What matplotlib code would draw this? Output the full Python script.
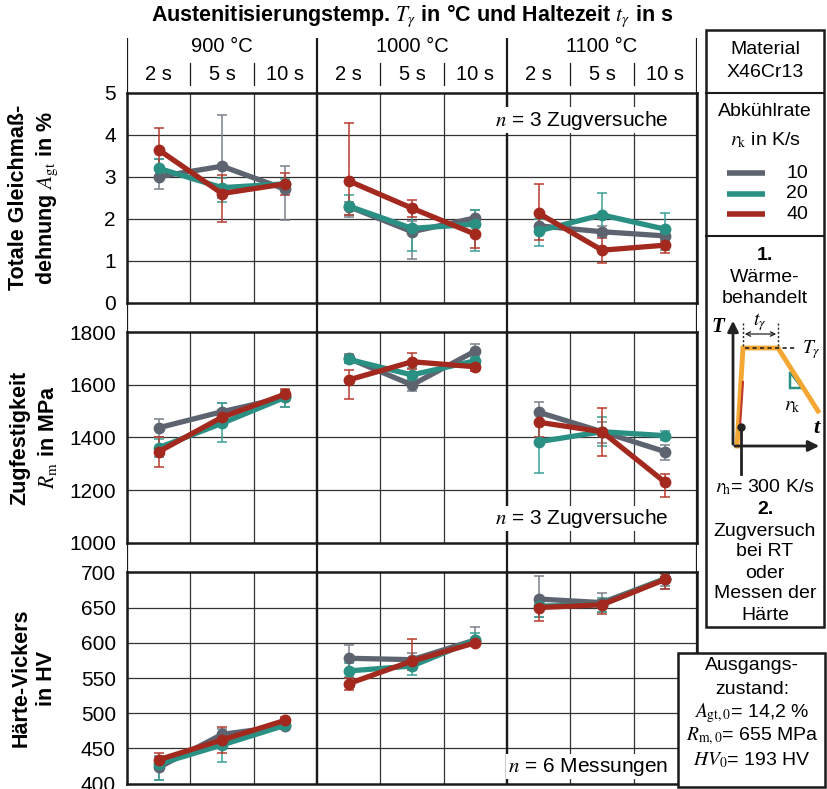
import matplotlib
matplotlib.use('Agg')
import matplotlib.pyplot as plt
from matplotlib.patches import Rectangle, Polygon

plt.rcParams['font.family'] = ['Liberation Sans', 'DejaVu Sans']
plt.rcParams['mathtext.fontset'] = 'stix'

# Achsenbeschriftungen
temps = ['900 °C', '1000 °C', '1100 °C']
zeiten = ['2 s', '5 s', '10 s']
raten = ['10', '20', '40']
farben = ['#5d6470', '#2a9083', '#a3291f']
fehlerfarben = ['#7a818c', '#3aa095', '#b83a2e']

# Totale Gleichmaßdehnung A_gt in %
agt_10 = [3.00, 3.25, 2.70, 2.29, 1.69, 2.02, 1.83, 1.69, 1.59]
agt_10_hi = [3.41, 4.47, 3.25, 2.40, 1.95, 2.20, 2.00, 1.82, 1.68]
agt_10_lo = [2.71, 2.50, 1.97, 2.05, 1.03, 1.85, 1.65, 1.58, 1.52]
agt_20 = [3.20, 2.74, 2.83, 2.30, 1.77, 1.87, 1.71, 2.09, 1.75]
agt_20_hi = [3.41, 2.98, 2.95, 2.56, 2.33, 2.20, 2.00, 2.62, 2.13]
agt_20_lo = [2.98, 2.40, 2.70, 2.09, 1.24, 1.24, 1.36, 1.70, 1.25]
agt_40 = [3.64, 2.60, 2.83, 2.90, 2.25, 1.63, 2.13, 1.25, 1.37]
agt_40_hi = [4.15, 3.04, 3.10, 4.27, 2.44, 1.97, 2.82, 1.53, 1.48]
agt_40_lo = [3.16, 1.93, 2.56, 2.09, 2.05, 1.31, 1.49, 0.95, 1.19]

# Zugfestigkeit R_m in MPa
rm_10 = [1437, 1498, 1553, 1701, 1600, 1729, 1496, 1422, 1346]
rm_10_hi = [1470, 1530, 1581, 1718, 1621, 1756, 1536, 1460, 1371]
rm_10_lo = [1400, 1470, 1515, 1682, 1578, 1701, 1460, 1380, 1314]
rm_20 = [1361, 1454, 1553, 1697, 1638, 1692, 1384, 1422, 1407]
rm_20_hi = [1395, 1530, 1575, 1712, 1663, 1707, 1454, 1479, 1425]
rm_20_lo = [1327, 1384, 1517, 1682, 1620, 1675, 1266, 1368, 1390]
rm_40 = [1346, 1477, 1565, 1619, 1688, 1669, 1458, 1422, 1229]
rm_40_hi = [1403, 1505, 1584, 1657, 1720, 1684, 1492, 1511, 1261]
rm_40_lo = [1289, 1449, 1543, 1545, 1659, 1654, 1400, 1330, 1175]

# Härte HV
hv_10 = [423, 470, 482, 578, 576, 604, 662, 657, 691]
hv_10_hi = [440, 478, 487, 597, 586, 623, 695, 670, 700]
hv_10_lo = [405, 460, 477, 561, 566, 597, 637, 644, 680]
hv_20 = [428, 455, 483, 560, 567, 604, 652, 654, 691]
hv_20_hi = [438, 467, 488, 571, 578, 614, 663, 663, 703]
hv_20_lo = [405, 431, 478, 552, 554, 595, 637, 644, 676]
hv_40 = [434, 462, 490, 542, 574, 600, 650, 654, 690]
hv_40_hi = [444, 481, 495, 550, 605, 604, 658, 661, 698]
hv_40_lo = [422, 443, 485, 533, 561, 596, 631, 641, 676]

W, H = 827, 789
fig = plt.figure(figsize=(W / 100, H / 100), dpi=100)


def pix(x0, y0, x1, y1):
    return [x0 / W, 1 - y1 / H, (x1 - x0) / W, (y1 - y0) / H]


X0, X1 = 127, 697

# Hintergrund-Tabelle (Kopfzeile und durchgehende Trennlinien)
bg = fig.add_axes(pix(X0, 0, X1, H))
bg.set_xlim(-0.5, 8.5)
bg.set_ylim(H, 0)
bg.axis('off')
for xv in [-0.5, 2.5, 5.5, 8.5]:
    bg.plot([xv, xv], [38, 785], color='#1a1a1a', lw=1.6, solid_capstyle='butt')
for g in range(3):
    bg.text(3 * g + 1, 46, temps[g], ha='center', va='center', fontsize=14.5)
    for k in range(3):
        bg.text(3 * g + k, 74, zeiten[k], ha='center', va='center', fontsize=14.5)
    for k in [0.5, 1.5]:
        bg.plot([3 * g + k] * 2, [63, 85], color='#1a1a1a', lw=0.9)
bg.text(4, 16, r'Austenitisierungstemp. $T_\gamma$ in °C und Haltezeit $t_\gamma$ in s',
        ha='center', va='center', fontsize=15.5, fontweight='bold')

panels = [
    (92.7, 302.7, (0, 5), [0, 1, 2, 3, 4, 5],
     [(agt_10, agt_10_lo, agt_10_hi), (agt_20, agt_20_lo, agt_20_hi), (agt_40, agt_40_lo, agt_40_hi)],
     'Totale Gleichmaß-\ndehnung $A_{\\mathrm{gt}}$ in %', r'$n$ = 3 Zugversuche', 0.87),
    (332.3, 542.7, (1000, 1800), [1000, 1200, 1400, 1600, 1800],
     [(rm_10, rm_10_lo, rm_10_hi), (rm_20, rm_20_lo, rm_20_hi), (rm_40, rm_40_lo, rm_40_hi)],
     'Zugfestigkeit\n$R_{\\mathrm{m}}$ in MPa', r'$n$ = 3 Zugversuche', 0.115),
    (572.3, 783.7, (400, 700), [400, 450, 500, 550, 600, 650, 700],
     [(hv_10, hv_10_lo, hv_10_hi), (hv_20, hv_20_lo, hv_20_hi), (hv_40, hv_40_lo, hv_40_hi)],
     'Härte-Vickers\nin HV', r'$n$ = 6 Messungen', 0.08),
]

xs = list(range(9))
for y0, y1, lim, ticks, reihen, ylab, ntext, ny in panels:
    ax = fig.add_axes(pix(X0, y0, X1, y1))
    ax.patch.set_alpha(0)
    ax.set_xlim(-0.5, 8.5)
    ax.set_ylim(*lim)
    ax.set_yticks(ticks)
    ax.set_yticklabels([str(t) for t in ticks], fontsize=15)
    ax.set_xticks([])
    ax.tick_params(axis='y', length=0, pad=8)
    for s in ax.spines.values():
        s.set_linewidth(1.8)
        s.set_color('#1a1a1a')
    for t in ticks[1:-1]:
        ax.axhline(t, color='#333333', lw=0.9, zorder=0)
    for xv in [0.5, 1.5, 3.5, 4.5, 6.5, 7.5]:
        ax.axvline(xv, color='#333333', lw=0.9, zorder=0)
    for xv in [2.5, 5.5]:
        ax.axvline(xv, color='#1a1a1a', lw=1.6, zorder=0)
    ax.text(0.949, ny, ntext, transform=ax.transAxes, ha='right', va='center', fontsize=15,
            bbox=dict(facecolor='white', edgecolor='none', pad=1), zorder=1)
    for (mw, lo, hi), c, ec in zip(reihen, farben, fehlerfarben):
        err = [[m - l for m, l in zip(mw, lo)], [h - m for m, h in zip(mw, hi)]]
        ax.errorbar(xs, mw, yerr=err, fmt='none', ecolor=ec, elinewidth=1.1, capsize=3.5,
                    capthick=1.1, zorder=2)
        for g in range(3):
            ax.plot(xs[3 * g:3 * g + 3], mw[3 * g:3 * g + 3], color=c, lw=3.8, marker='o',
                    markersize=7.5, zorder=3, solid_capstyle='round')
    fig.text(34 / W, 1 - (y0 + y1) / 2 / H, ylab, rotation=90, ha='center', va='center',
             fontsize=15.5, fontweight='bold', multialignment='center', linespacing=1.3)

# Rechte Seite: Legende und Schema
ov = fig.add_axes([0, 0, 1, 1], zorder=10)
ov.set_xlim(0, W)
ov.set_ylim(H, 0)
ov.axis('off')
ov.patch.set_alpha(0)

ov.add_patch(Rectangle((706, 30), 118, 597, facecolor='white', edgecolor='#1a1a1a', lw=1.8))
for yv in [93, 236]:
    ov.plot([706, 824], [yv, yv], color='#1a1a1a', lw=1.5)
cx = 765
fs = 14
ov.text(cx, 49, 'Material', ha='center', va='center', fontsize=fs)
ov.text(cx, 72, 'X46Cr13', ha='center', va='center', fontsize=fs)
ov.text(cx, 111, 'Abkühlrate', ha='center', va='center', fontsize=fs)
ov.text(cx, 140, r'$r_{\mathrm{k}}$ in K/s', ha='center', va='center', fontsize=fs)
for i, (r, c) in enumerate(zip(raten, farben)):
    yv = 173 + i * 20.5
    ov.plot([727, 765], [yv, yv], color=c, lw=4, solid_capstyle='butt')
    ov.text(808, yv, r, ha='right', va='center', fontsize=fs)
ov.text(cx, 255, '1.', ha='center', va='center', fontsize=fs, fontweight='bold')
ov.text(cx, 277, 'Wärme-', ha='center', va='center', fontsize=fs)
ov.text(cx, 298, 'behandelt', ha='center', va='center', fontsize=fs)

# Schema Temperaturverlauf
ov.annotate('', xy=(733, 318), xytext=(733, 447),
            arrowprops=dict(arrowstyle='-|>', lw=2, color='#222222', mutation_scale=16))
ov.annotate('', xy=(822, 446), xytext=(732, 446),
            arrowprops=dict(arrowstyle='-|>', lw=2, color='#222222', mutation_scale=16))
ov.text(718, 327, 'T', ha='center', va='center', fontsize=15, family='Liberation Serif',
        style='italic', fontweight='bold')
ov.text(816, 428, 't', ha='center', va='center', fontsize=16, family='Liberation Serif',
        style='italic', fontweight='bold')
ov.plot([737, 743, 778, 818], [446, 348, 348, 411], color='#f5a733', lw=3.5,
        solid_joinstyle='miter')
ov.plot([740, 743], [427, 382], color='#c0392b', lw=1.5)
ov.plot([745, 797], [348, 348], color='#222222', lw=1.2, ls=(0, (2.5, 2)))
ov.plot([743, 743], [323, 346], color='#222222', lw=1, ls=(0, (1.5, 1.5)))
ov.plot([778, 778], [323, 346], color='#222222', lw=1, ls=(0, (1.5, 1.5)))
ov.annotate('', xy=(742, 334), xytext=(779, 334),
            arrowprops=dict(arrowstyle='<->', lw=0.9, color='#222222', mutation_scale=8))
ov.text(760, 322, r'$t_\gamma$', ha='center', va='center', fontsize=14)
ov.text(802, 350, r'$T_\gamma$', ha='left', va='center', fontsize=14)
ov.add_patch(Polygon([(790, 372), (790, 388), (802, 388)], closed=True, fill=False,
                     edgecolor='#2a9083', lw=1.8))
ov.text(792, 406, r'$r_{\mathrm{k}}$', ha='center', va='center', fontsize=14)
ov.plot([741, 741], [427, 474], color='#222222', lw=2)
ov.plot([741], [427], marker='o', color='#222222', markersize=5)
ov.text(cx, 487, r'$r_{\mathrm{h}}$= 300 K/s', ha='center', va='center', fontsize=fs)
ov.text(cx, 509, '2.', ha='center', va='center', fontsize=fs, fontweight='bold')
for i, zeile in enumerate(['Zugversuch', 'bei RT', 'oder', 'Messen der', 'Härte']):
    ov.text(cx, 531 + i * 21, zeile, ha='center', va='center', fontsize=fs)

# Ausgangszustand
ov.add_patch(Rectangle((678, 653), 147, 134, facecolor='white', edgecolor='#1a1a1a', lw=1.8))
ax_lines = ['Ausgangs-', 'zustand:', r'$A_{\mathrm{gt,0}}$= 14,2 %',
            r'$R_{\mathrm{m,0}}$= 655 MPa', r'$HV_{0}$= 193 HV']
for i, zeile in enumerate(ax_lines):
    ov.text(752, 666 + i * 23.5, zeile, ha='center', va='center', fontsize=fs)

fig.savefig('out.png', dpi=100)
